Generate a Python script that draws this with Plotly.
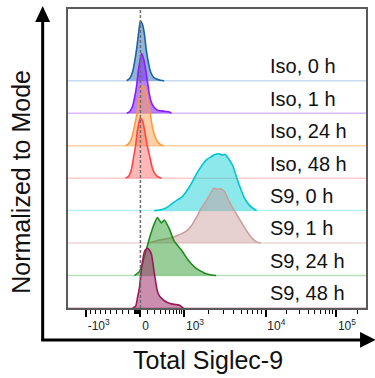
import numpy as np
import plotly.graph_objects as go

# ---- data: histogram outlines, x in display channels (0-1000), y in % of mode ----
row_labels = ["Iso, 0 h", "Iso, 1 h", "Iso, 24 h", "Iso, 48 h",
              "S9, 0 h", "S9, 1 h", "S9, 24 h", "S9, 48 h"]

iso0_x = [197, 207, 217, 223, 230, 237, 243, 250, 257, 263, 270, 277, 287, 297, 310, 323]
iso0_y = [0, 4, 15, 30, 52, 80, 100, 94, 76, 50, 30, 15, 6, 3, 1, 0]

iso1_x = [197, 207, 217, 223, 230, 237, 247, 253, 260, 267, 273, 280, 290, 300, 313, 327, 340, 347]
iso1_y = [0, 3, 12, 25, 45, 75, 100, 92, 75, 52, 32, 18, 9, 5, 4, 3, 2, 0]

iso24_x = [193, 203, 213, 223, 230, 237, 243, 250, 257, 263, 270, 277, 283, 290, 300, 310, 320]
iso24_y = [0, 3, 12, 32, 50, 72, 92, 100, 97, 88, 70, 50, 32, 18, 7, 2, 0]

iso48_x = [193, 203, 213, 220, 227, 233, 240, 243, 250, 257, 263, 270, 277, 283, 293, 303, 313]
iso48_y = [0, 3, 15, 35, 55, 80, 97, 100, 96, 80, 62, 45, 30, 17, 6, 2, 0]

s9_0_x = [290, 307, 327, 350, 367, 383, 400, 417, 433, 450, 467, 480, 493,
          507, 517, 527, 540, 553, 563, 573, 583, 593, 607, 620, 633]
s9_0_y = [0, 1, 4, 12, 18, 23, 34, 48, 63, 76, 86, 90, 94,
          95, 93, 94, 86, 75, 60, 45, 32, 20, 10, 4, 0]

s9_1_x = [273, 307, 340, 363, 397, 413, 430, 447, 463, 477, 490, 500,
          513, 527, 540, 557, 573, 590, 607, 620, 633, 647]
s9_1_y = [0, 5, 8, 12, 20, 28, 42, 58, 70, 82, 92, 90,
          91, 85, 70, 55, 42, 28, 15, 7, 2, 0]

s9_24_x = [223, 240, 257, 273, 290, 300, 313, 323, 340, 357, 380, 400,
           413, 430, 447, 463, 480, 497]
s9_24_y = [0, 7, 32, 62, 87, 97, 88, 93, 78, 57, 43, 28,
           20, 12, 7, 3, 1, 0]

s9_48_x = [217, 227, 233, 240, 247, 257, 267, 273, 280, 290, 300, 307,
           317, 330, 340, 357, 373, 387]
s9_48_y = [0, 3, 17, 35, 67, 95, 100, 97, 90, 57, 28, 20,
           15, 10, 8, 6, 5, 0]

series_x = [iso0_x, iso1_x, iso24_x, iso48_x, s9_0_x, s9_1_x, s9_24_x, s9_48_x]
series_y = [iso0_y, iso1_y, iso24_y, iso48_y, s9_0_y, s9_1_y, s9_24_y, s9_48_y]

line_colors = ["#1b63a8", "#8a1cff", "#ff9a3c", "#ff4545",
               "#00c6d0", "#c9a0a0", "#1f8a1f", "#9c1a5a"]
fill_colors = ["rgba(60,120,185,0.55)", "rgba(135,45,255,0.6)",
               "rgba(255,160,80,0.5)", "rgba(255,95,95,0.45)",
               "rgba(25,210,215,0.5)", "rgba(200,150,150,0.45)",
               "rgba(50,160,50,0.5)", "rgba(160,50,110,0.55)"]
base_colors = ["#c8dbee", "#d9b8ff", "#ffd2a6", "#ffcaca",
               "#b4f0f2", "#ecd6d6", "#b8e0b8", "#e0b8cc"]

tick_major = [-1000, 0, 1000, 10000, 100000]
tick_text = ["-10<sup>3</sup>", "0", "10<sup>3</sup>", "10<sup>4</sup>", "10<sup>5</sup>"]

# ---- biexponential display scale (intensity -> channel) ----
NEG_SPAN, LIN_SPAN = 183.0, 147.0
ZERO_CH, D3_CH, D4_CH, D5_CH = 243.0, 390.0, 663.0, 900.0


def to_channel(v):
    if v >= 10000:
        return D4_CH + (D5_CH - D4_CH) * np.log10(v / 10000)
    if v >= 1000:
        return D3_CH + (D4_CH - D3_CH) * np.log10(v / 1000)
    if v >= 0:
        return ZERO_CH + LIN_SPAN * np.arcsinh(v / 300) / np.arcsinh(1000 / 300)
    return ZERO_CH - NEG_SPAN * np.arcsinh(-v / 1000) / np.arcsinh(1.0)


minor_vals = ([-m * 100 for m in range(2, 10)] + [-m * 10 for m in range(1, 10)]
              + [m * 100 for m in range(1, 10)] + [m * 1000 for m in range(2, 10)]
              + [m * 10000 for m in range(2, 10)] + [200000])

ROW_H = 1.842  # peak height of a 100 % mode, in row units
n = len(row_labels)

fig = go.Figure()
for i in range(n):
    base = n - 1 - i
    fig.add_trace(go.Scatter(
        x=[0, 1000], y=[base, base], mode="lines",
        line=dict(color=base_colors[i], width=1.5), hoverinfo="skip"))
    fig.add_trace(go.Scatter(
        x=series_x[i], y=[base + p / 100 * ROW_H for p in series_y[i]],
        mode="lines", fill="toself", fillcolor=fill_colors[i],
        line=dict(color=line_colors[i], width=1.6, shape="spline", smoothing=0.6),
        name=row_labels[i]))
    fig.add_annotation(x=670, y=base + 0.45, xref="x", yref="y", text=row_labels[i],
                       showarrow=False, xanchor="left", yanchor="middle",
                       font=dict(size=20, color="#111"))

# dashed marker at zero intensity
fig.add_vline(x=to_channel(0), line=dict(color="#6e6e6e", width=1.5, dash="3px,2px"))

# arrows forming the outer axes (paper coordinates)
W, PLOT = 375, 300.0


def px_x(p):
    return (p - 68) / PLOT


def px_y(p):
    return (308 - p) / PLOT


fig.add_shape(type="line", xref="paper", yref="paper",
              x0=px_x(42.5), y0=px_y(340), x1=px_x(42.5), y1=px_y(18),
              line=dict(color="black", width=3))
fig.add_shape(type="line", xref="paper", yref="paper",
              x0=px_x(41), y0=px_y(340), x1=px_x(364), y1=px_y(340),
              line=dict(color="black", width=3))
fig.add_shape(type="path", xref="paper", yref="paper",
              path=f"M {px_x(35)} {px_y(21)} L {px_x(42.5)} {px_y(5)} L {px_x(50)} {px_y(21)} Z",
              fillcolor="black", line=dict(width=0))
fig.add_shape(type="path", xref="paper", yref="paper",
              path=f"M {px_x(362)} {px_y(332)} L {px_x(378)} {px_y(340)} L {px_x(362)} {px_y(348)} Z",
              fillcolor="black", line=dict(width=0))

fig.add_annotation(x=px_x(21), y=px_y(181), xref="paper", yref="paper",
                   xanchor="center", yanchor="middle",
                   text="Normalized to Mode", textangle=-90, showarrow=False,
                   font=dict(size=25, color="#111"))
fig.add_annotation(x=px_x(209), y=px_y(360), xref="paper", yref="paper",
                   xanchor="center", yanchor="middle",
                   text="Total Siglec-9", showarrow=False,
                   font=dict(size=25, color="#111"))

fig.update_xaxes(
    range=[0, 1000], showgrid=False, zeroline=False,
    showline=True, linecolor="#5a5a5a", linewidth=1.5, mirror=True,
    tickmode="array", tickvals=[to_channel(v) for v in tick_major], ticktext=tick_text,
    ticks="outside", ticklen=7, tickwidth=2, tickcolor="black",
    ticklabelposition="outside right", ticklabelstandoff=6,
    tickfont=dict(size=12, color="#222"),
    minor=dict(tickmode="array", tickvals=[to_channel(v) for v in minor_vals],
               ticks="outside", ticklen=4, tickwidth=1, tickcolor="black"),
)
fig.update_yaxes(
    range=[0, 300 / 32.57], showgrid=False, zeroline=False, showticklabels=False,
    showline=True, linecolor="#5a5a5a", linewidth=1.5, mirror=True, ticks="",
)

fig.update_layout(
    width=W, height=378, margin=dict(l=68, r=7, t=8, b=70),
    paper_bgcolor="white", plot_bgcolor="white", showlegend=False,
    font=dict(family="Liberation Sans, Arial, sans-serif"),
)

fig.write_html("out.html")
